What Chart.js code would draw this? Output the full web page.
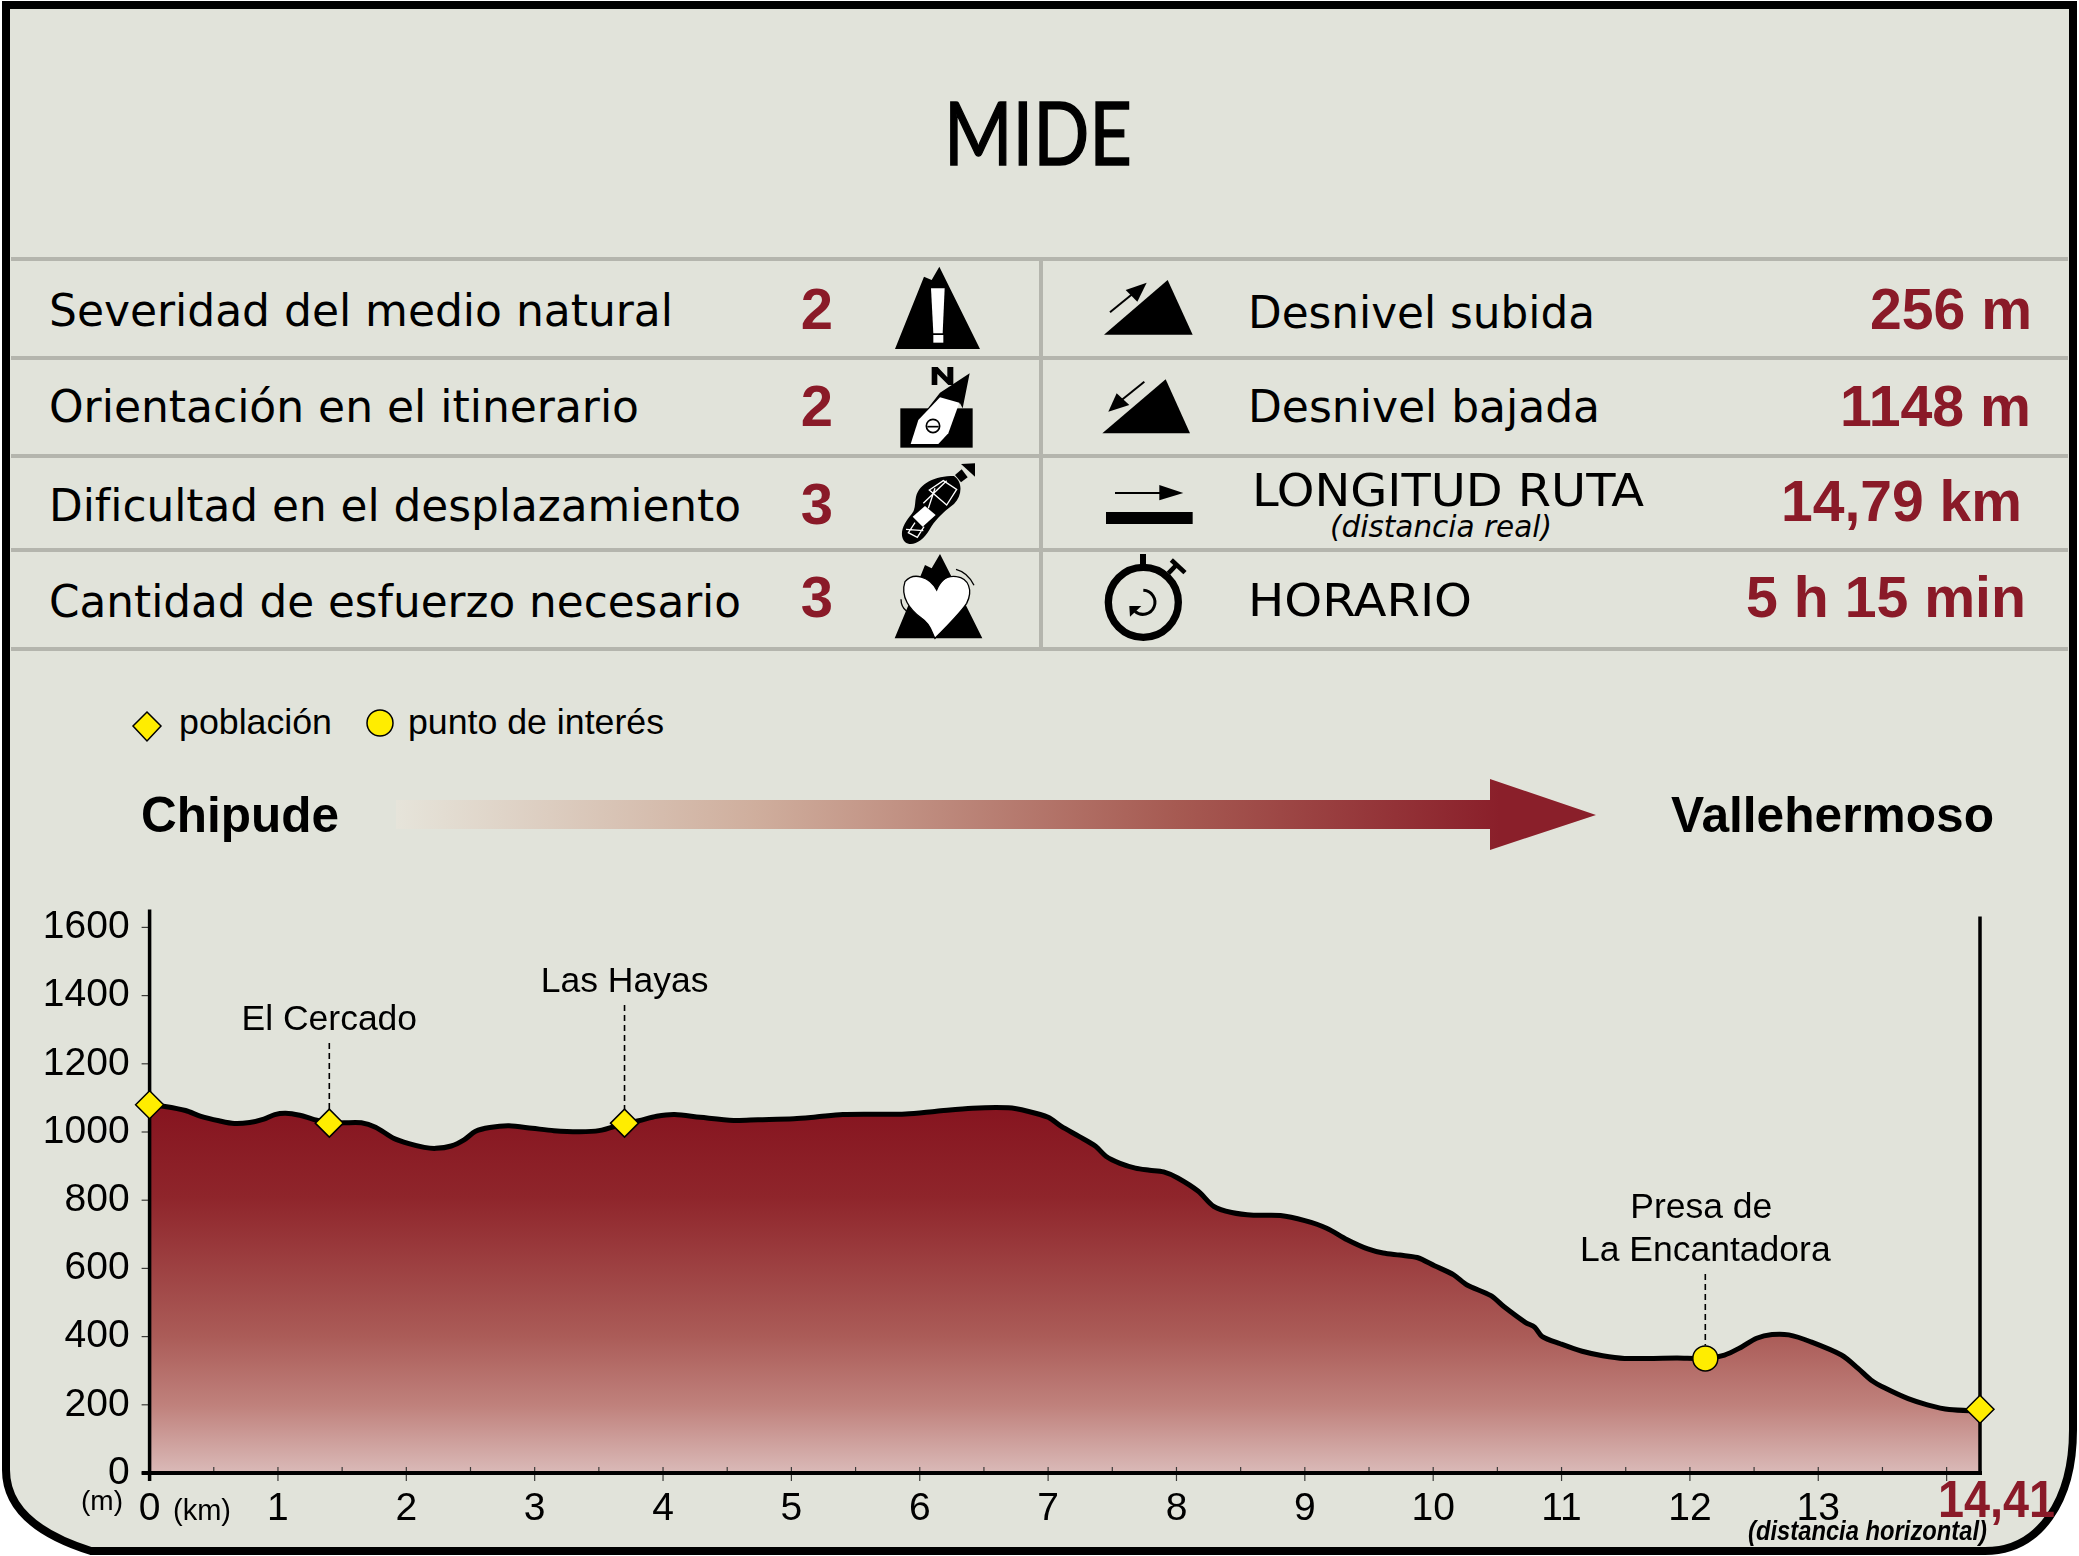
<!DOCTYPE html>
<html lang="es">
<head>
<meta charset="utf-8">
<title>MIDE</title>
<script src="https://cdn.jsdelivr.net/npm/chart.js@4/dist/chart.umd.min.js"></script>
<style>
  html, body { margin: 0; padding: 0; background: #fff; }
  #page { position: relative; width: 2079px; height: 1556px; overflow: hidden; }
  #page svg, #page canvas { position: absolute; left: 0; top: 0; }
  .label { font-family: "DejaVu Sans Condensed", "DejaVu Sans", sans-serif; font-size: 45px; fill: #000; }
  .num { font-family: "Liberation Sans", Arial, sans-serif; font-weight: bold; font-size: 58px; fill: #8a1a28; }
  .arial { font-family: "Liberation Sans", Arial, sans-serif; font-size: 35px; fill: #000; }
  .place { font-family: "Liberation Sans", Arial, sans-serif; font-weight: bold; font-size: 50px; fill: #000; }
</style>
</head>
<body>
<div id="page">
  <svg id="sheet" width="2079" height="1556" viewBox="0 0 2079 1556" xmlns="http://www.w3.org/2000/svg">
    <defs>
      <linearGradient id="arrowFade" gradientUnits="userSpaceOnUse" x1="396" y1="0" x2="1596" y2="0">
        <stop offset="0" stop-color="#e6e4da"/>
        <stop offset="0.3" stop-color="#cfae9d"/>
        <stop offset="0.65" stop-color="#a65a52"/>
        <stop offset="0.92" stop-color="#8a1f2a"/>
      </linearGradient>
    </defs>
    <path d="M6 5 H2073 V1430 C2073 1500 2040 1551 1985 1551 H91 C40 1535 6 1510 6 1470 Z"
          fill="#e1e3da" stroke="#000" stroke-width="8"/>
    <g id="rules" stroke="#b4b5ad" stroke-width="4"></g>
    <g id="texts"></g>
    <!-- iconos MIDE, coordenadas a escala 3x -->
    <g transform="translate(800 240) scale(0.33333)">
      <polygon points="285,327 372,110 395,120 418,80 540,327" fill="#000"/>
      <polygon points="393,145 434,145 428,280 400,280" fill="#fff"/>
      <rect x="400" y="285" width="30" height="23" fill="#fff"/>

      <rect x="301" y="505" width="217" height="118" fill="#000"/>
      <polygon points="509,400 420,458 372,520 480,490 488,505" fill="#000"/>
      <polygon points="420,472 478,488 445,580 415,612 332,612 355,540" fill="#fff"/>
      <circle cx="399" cy="558" r="20" fill="#fff" stroke="#000" stroke-width="5"/>
      <line x1="382" y1="560" x2="416" y2="560" stroke="#000" stroke-width="5"/>
      <polygon points="395,435 395,381 413,381 442,412 442,381 460,381 460,435 445,435 412,402 412,435" fill="#000"/>

      <path d="M348 770 C358 730 405 708 462 708 C488 725 488 765 462 792 C432 815 408 835 388 870 C368 905 335 922 315 906 C295 885 310 850 335 822 C347 808 344 790 348 770 Z" fill="#000"/>
      <polygon points="465,705 485,688 503,712 483,727" fill="#000"/>
      <polygon points="483,672 525,670 525,710" fill="#000"/>
      <polygon points="338,830 375,798 407,825 368,860" fill="#fff"/>
      <g stroke="#fff" stroke-width="4" fill="none">
        <path d="M430 722 L470 748 L440 795 L388 750 Z"/>
        <path d="M405 745 L385 805 M370 790 L440 722"/>
        <path d="M345 848 L325 878 L352 892 L372 860 M318 868 L370 872"/>
      </g>

      <polygon points="284,1195 365,1000 375,975 395,985 420,942 470,1040 547,1195" fill="#000"/>
      <path d="M410 1050 C390 1010 340 995 315 1025 C300 1070 330 1110 365 1135 C395 1155 395 1180 405 1195 C430 1170 480 1120 500 1090 C520 1050 505 1015 470 1010 C440 1005 420 1025 410 1050 Z" fill="#fff" stroke="#000" stroke-width="4"/>
      <path d="M468 988 C495 995 512 1015 522 1036" fill="none" stroke="#000" stroke-width="4"/>
      <path d="M303 1078 C303 1095 308 1105 320 1114" fill="none" stroke="#000" stroke-width="4"/>

      <polygon points="912,284 1103,120 1178,284" fill="#000"/>
      <line x1="930" y1="217" x2="1000" y2="160" stroke="#000" stroke-width="6"/>
      <polygon points="1040,128 977,150 1012,185" fill="#000"/>

      <polygon points="907,580 1097,418 1170,580" fill="#000"/>
      <line x1="1033" y1="425" x2="965" y2="480" stroke="#000" stroke-width="6"/>
      <polygon points="925,515 950,460 988,495" fill="#000"/>

      <line x1="945" y1="759" x2="1080" y2="759" stroke="#000" stroke-width="6"/>
      <polygon points="1078,735 1150,759 1078,781" fill="#000"/>
      <rect x="918" y="816" width="260" height="36" fill="#000"/>

      <circle cx="1030" cy="1087" r="105" fill="none" stroke="#000" stroke-width="22"/>
      <rect x="1020" y="942" width="18" height="40" fill="#000"/>
      <line x1="1105" y1="1000" x2="1132" y2="972" stroke="#000" stroke-width="14"/>
      <line x1="1114" y1="960" x2="1155" y2="998" stroke="#000" stroke-width="14"/>
      <path d="M1030 1051 A36 36 0 1 1 1005 1114" fill="none" stroke="#000" stroke-width="9"/>
      <polygon points="988,1098 1024,1098 990,1130" fill="#000"/>
    </g>
    <!-- leyenda -->
    <polygon points="147,712 161,726 147,741 133,726" fill="#ffed00" stroke="#000" stroke-width="1.5"/>
    <circle cx="380" cy="723" r="13" fill="#ffed00" stroke="#000" stroke-width="1.5"/>
    <!-- flecha de direccion -->
    <polygon points="396,800 1490,800 1490,779 1596,815 1490,850 1490,829 396,829" fill="url(#arrowFade)"/>
  </svg>
  <canvas id="perfilChart" width="2079" height="1556"></canvas>
</div>

<script>
const title = "MIDE";
const mideLabels = [
  "Severidad del medio natural",
  "Orientación en el itinerario",
  "Dificultad en el desplazamiento",
  "Cantidad de esfuerzo necesario",
];
const mideValues = ["2", "2", "3", "3"];
const routeLabels = ["Desnivel subida", "Desnivel bajada", "LONGITUD RUTA", "HORARIO"];
const routeNote = "(distancia real)";
const routeValues = ["256 m", "1148 m", "14,79 km", "5 h 15 min"];
const legendLabels = ["población", "punto de interés"];
const startPlace = "Chipude";
const endPlace = "Vallehermoso";

// perfil: km en el eje, altitud en m
const profileKm = [
  0, 0.12, 0.28, 0.4, 0.54, 0.66, 0.78, 0.89, 0.975, 1.06, 1.17, 1.27, 1.4, 1.515, 1.65,
  1.76, 1.9, 2.02, 2.14, 2.23, 2.35, 2.45, 2.54, 2.65, 2.8, 2.98, 3.15, 3.34, 3.5, 3.71,
  3.81, 3.95, 4.09, 4.29, 4.55, 4.74, 5.02, 5.19, 5.4, 5.64, 5.89, 6.13, 6.41, 6.69, 6.84,
  7.0, 7.1, 7.24, 7.37, 7.45, 7.56, 7.68, 7.79, 7.9, 8.01, 8.17, 8.29, 8.43, 8.6, 8.81,
  9.0, 9.17, 9.33, 9.49, 9.61, 9.74, 9.875, 10.01, 10.16, 10.26, 10.45, 10.55, 10.72, 10.79,
  10.85, 10.99, 11.16, 11.32, 11.49, 11.7, 11.9, 12.12, 12.27, 12.4, 12.52, 12.64, 12.77,
  12.94, 13.18, 13.31, 13.41, 13.52, 13.7, 13.85, 14.02, 14.26,
];
const profileElevation = [
  1080, 1075, 1063, 1046, 1033, 1025, 1028, 1038, 1051, 1055, 1049, 1038, 1026, 1027, 1027,
  1014, 982, 966, 955, 952, 959, 977, 1002, 1013, 1018, 1011, 1004, 1001, 1004, 1026,
  1033, 1046, 1051, 1043, 1034, 1036, 1039, 1044, 1051, 1052, 1053, 1061, 1070, 1071, 1061,
  1043, 1017, 987, 958, 929, 908, 894, 888, 883, 865, 826, 782, 764, 756, 755,
  740, 718, 684, 657, 645, 639, 632, 608, 581, 552, 520, 488, 441, 428,
  400, 379, 357, 344, 336, 336, 337, 336, 346, 369, 395, 406, 405,
  385, 346, 307, 273, 249, 218, 200, 186, 182,
];

const townNames = ["", "El Cercado", "Las Hayas", ""];
const townKm = [0, 1.4, 3.7, 14.26];
const townElevation = [1080, 1026, 1026, 187];
const poiNames = ["Presa de|La Encantadora"];
const poiKm = [12.12];
const poiElevation = [336];

const yTicks = [0, 200, 400, 600, 800, 1000, 1200, 1400, 1600];
const xAxisEnd = 14.26;
const xEndLabel = "14,41";
const yUnit = "(m)";
const xUnit = "(km)";
const xNote = "(distancia horizontal)";

const SVG_NS = "http://www.w3.org/2000/svg";

function addText(text, x, y, cls, width, extra) {
  const el = document.createElementNS(SVG_NS, "text");
  el.textContent = text;
  el.setAttribute("x", x);
  el.setAttribute("y", y);
  el.setAttribute("class", cls);
  if (width) {
    el.setAttribute("textLength", width);
    el.setAttribute("lengthAdjust", "spacingAndGlyphs");
  }
  Object.entries(extra || {}).forEach(([k, v]) => el.setAttribute(k, v));
  document.getElementById("texts").appendChild(el);
}

function drawSheet() {
  const rules = document.getElementById("rules");
  [259, 358, 456, 550, 649].forEach((y) => {
    const l = document.createElementNS(SVG_NS, "line");
    l.setAttribute("x1", 11);
    l.setAttribute("x2", 2068);
    l.setAttribute("y1", y);
    l.setAttribute("y2", y);
    rules.appendChild(l);
  });
  const v = document.createElementNS(SVG_NS, "line");
  v.setAttribute("x1", 1041);
  v.setAttribute("x2", 1041);
  v.setAttribute("y1", 259);
  v.setAttribute("y2", 649);
  rules.appendChild(v);

  addText(title, 944, 165, "label", 188, {
    style: "font-family:Lato,sans-serif;font-size:88px;stroke:#000;stroke-width:1.5px",
  });

  const leftBase = [326, 422, 521, 617];
  const leftWidth = [624, 590, 692, 692];
  const numBase = [329, 426, 524, 617];
  mideLabels.forEach((t, i) => {
    addText(t, 49, leftBase[i], "label", leftWidth[i]);
    addText(mideValues[i], 817, numBase[i], "num", 0, { "text-anchor": "middle" });
  });

  const rightBase = [328, 422, 506, 616];
  const rightX = [1248, 1248, 1252, 1248];
  const rightWidth = [347, 352, 392, 224];
  routeLabels.forEach((t, i) => addText(t, rightX[i], rightBase[i], "label", rightWidth[i]));
  addText(routeNote, 1330, 537, "label", 222, { style: "font-size:31px;font-style:italic" });

  const valueX = [1870, 1840, 1781, 1746];
  const valueWidth = [162, 191, 241, 280];
  const valueBase = [329, 426, 521, 617];
  routeValues.forEach((t, i) => addText(t, valueX[i], valueBase[i], "num", valueWidth[i]));

  addText(legendLabels[0], 179, 734, "arial", 153);
  addText(legendLabels[1], 408, 734, "arial", 256);
  addText(startPlace, 141, 832, "place", 198);
  addText(endPlace, 1671, 832, "place", 323);
}

// ejes, marcas y rotulos del perfil
const profilePlugin = {
  id: "profilePlugin",
  afterDatasetDraw(chart, args) {
    if (args.index !== 2) return;
    const { ctx, scales: { x, y } } = chart;
    const y0 = y.getPixelForValue(0);
    ctx.save();
    ctx.strokeStyle = "#3a3a38";
    ctx.lineWidth = 1.2;
    yTicks.forEach((v) => {
      const p = y.getPixelForValue(v);
      ctx.beginPath();
      ctx.moveTo(x.left - 8, p);
      ctx.lineTo(x.left, p);
      ctx.stroke();
    });
    for (let k = 0; k <= 28; k++) {
      const p = x.getPixelForValue(k / 2);
      ctx.beginPath();
      ctx.moveTo(p, y0 - 6);
      ctx.lineTo(p, k % 2 === 0 ? y0 + 8 : y0);
      ctx.stroke();
    }
    ctx.strokeStyle = "#000";
    ctx.lineWidth = 3.5;
    ctx.beginPath();
    ctx.moveTo(x.left, y.top);
    ctx.lineTo(x.left, y0 + 8);
    ctx.moveTo(x.right, y.top + 7);
    ctx.lineTo(x.right, y0);
    ctx.stroke();
    ctx.lineWidth = 4;
    ctx.beginPath();
    ctx.moveTo(x.left - 8, y0);
    ctx.lineTo(x.right + 2, y0);
    ctx.stroke();
    ctx.restore();
  },
  afterDatasetsDraw(chart) {
    const { ctx, scales: { x, y } } = chart;
    ctx.save();
    ctx.fillStyle = "#000";
    ctx.textAlign = "center";
    ctx.textBaseline = "alphabetic";
    ctx.font = '35.5px "Liberation Sans", Arial, sans-serif';

    // rotulo encima del punto con guia discontinua
    const tag = (name, km, elevation, baseline, markerTop) => {
      const px = x.getPixelForValue(km);
      const lines = name.split("|");
      lines.forEach((line, i) => {
        ctx.fillText(line, px + (lines.length > 1 && i === 0 ? -4 : 0), baseline - (lines.length - 1 - i) * 43);
      });
      ctx.save();
      ctx.lineWidth = 1.6;
      ctx.strokeStyle = "#000";
      ctx.setLineDash([6, 4]);
      ctx.beginPath();
      ctx.moveTo(px, baseline + 13);
      ctx.lineTo(px, y.getPixelForValue(elevation) - markerTop);
      ctx.stroke();
      ctx.restore();
    };
    tag(townNames[1], townKm[1], townElevation[1], 1030, 14);
    tag(townNames[2], townKm[2], townElevation[2], 992, 14);
    tag(poiNames[0], poiKm[0], poiElevation[0], 1261, 13);

    ctx.textAlign = "left";
    ctx.font = '28px "Liberation Sans", Arial, sans-serif';
    ctx.fillText(yUnit, 81, 1510);
    ctx.font = '29px "Liberation Sans", Arial, sans-serif';
    ctx.fillText(xUnit, 173, 1520);
    ctx.font = 'italic bold 27px "Liberation Sans", Arial, sans-serif';
    ctx.fillText(xNote, 1748, 1540, 239);
    ctx.fillStyle = "#8a1a28";
    ctx.font = 'bold 52px "Liberation Sans", Arial, sans-serif';
    ctx.fillText(xEndLabel, 1938, 1517, 117);
    ctx.restore();
  },
};

function areaGradient(context) {
  const { chart } = context;
  if (!chart.chartArea) return "#8a1a28";
  const y = chart.scales.y;
  const g = chart.ctx.createLinearGradient(0, y.getPixelForValue(1080), 0, y.getPixelForValue(0));
  g.addColorStop(0, "#86141f");
  g.addColorStop(0.25, "#8f252b");
  g.addColorStop(0.63, "#ab5c58");
  g.addColorStop(0.82, "#c0827d");
  g.addColorStop(1, "#dabab8");
  return g;
}

function toPoints(xs, ys) {
  return xs.map((v, i) => ({ x: v, y: ys[i] }));
}

function crearGraficoPerfil() {
  const ctx = document.getElementById("perfilChart").getContext("2d");
  return new Chart(ctx, {
    type: "line",
    data: {
      datasets: [
        {
          label: legendLabels[0],
          data: toPoints(townKm, townElevation),
          showLine: false,
          pointStyle: "rectRot",
          pointRadius: 14,
          pointBackgroundColor: "#ffed00",
          pointBorderColor: "#000",
          pointBorderWidth: 1.5,
          clip: false,
        },
        {
          label: legendLabels[1],
          data: toPoints(poiKm, poiElevation),
          showLine: false,
          pointStyle: "circle",
          pointRadius: 12.5,
          pointBackgroundColor: "#ffed00",
          pointBorderColor: "#000",
          pointBorderWidth: 1.5,
          clip: false,
        },
        {
          label: "perfil",
          data: toPoints(profileKm, profileElevation),
          borderColor: "#000",
          borderWidth: 5,
          tension: 0.3,
          pointRadius: 0,
          fill: "origin",
          backgroundColor: areaGradient,
        },
      ],
    },
    options: {
      responsive: false,
      animation: false,
      devicePixelRatio: 1,
      layout: { padding: { left: 0, top: 909.5, right: 99, bottom: 23 } },
      plugins: { legend: { display: false }, tooltip: { enabled: false } },
      scales: {
        x: {
          type: "linear",
          min: 0,
          max: xAxisEnd,
          grid: { display: false },
          border: { display: false },
          afterFit: (scale) => { scale.height = 60; },
          ticks: {
            stepSize: 1,
            includeBounds: false,
            autoSkip: false,
            maxRotation: 0,
            padding: 5,
            color: "#000",
            font: { family: '"Liberation Sans", Arial, sans-serif', size: 39 },
            callback: (v) => (v < 14 ? String(v) : ""),
          },
        },
        y: {
          min: 0,
          max: 1652.5,
          grid: { display: false },
          border: { display: false },
          afterFit: (scale) => { scale.width = 149.6; },
          afterBuildTicks: (scale) => { scale.ticks = yTicks.map((v) => ({ value: v })); },
          ticks: {
            padding: 12,
            color: "#000",
            font: { family: '"Liberation Sans", Arial, sans-serif', size: 39 },
            callback: (v) => String(v),
          },
        },
      },
    },
    plugins: [profilePlugin],
  });
}

document.addEventListener("DOMContentLoaded", function () {
  drawSheet();
  crearGraficoPerfil();
});
</script>
</body>
</html>
